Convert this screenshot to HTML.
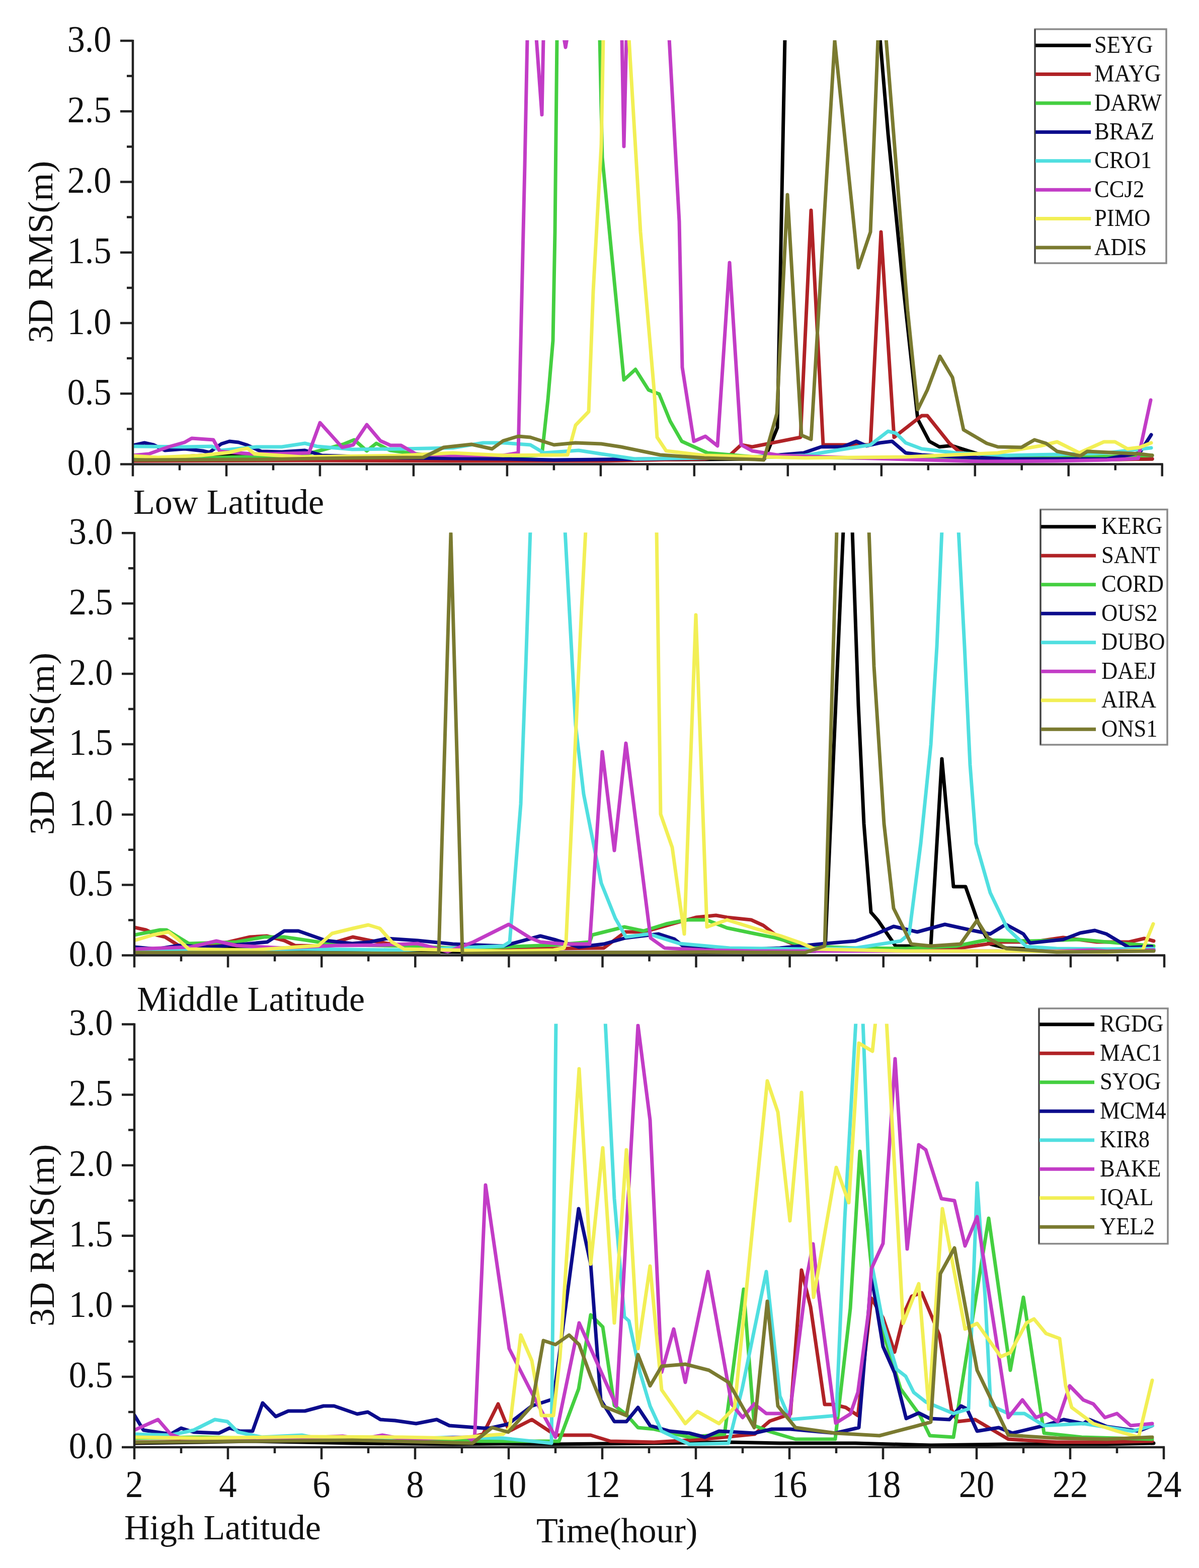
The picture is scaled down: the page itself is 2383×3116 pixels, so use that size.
<!DOCTYPE html>
<html><head><meta charset="utf-8"><title>3D RMS</title>
<style>html,body{margin:0;padding:0;background:#fff;width:2383px;height:3116px;overflow:hidden}svg{display:block}</style>
</head><body>
<svg width="2383" height="3116" viewBox="0 0 2383 3116" font-family='"Liberation Serif", "Times New Roman", serif'>
<rect width="2383" height="3116" fill="#fff"/>
<defs>
<clipPath id="cp0"><rect x="264.0" y="80.0" width="2045.6999999999998" height="847.5"/></clipPath>
<clipPath id="cp1"><rect x="267.0" y="1058.3" width="2047.0" height="845.2"/></clipPath>
<clipPath id="cp2"><rect x="267.0" y="2034.5" width="2046.0" height="846.5"/></clipPath>
</defs>
<g clip-path="url(#cp0)" fill="none" stroke-width="7" stroke-linejoin="round" stroke-linecap="round">
<polyline stroke="#000000" points="264,914 400,905 470,905 560,910 700,912 900,914 1000,915 1200,914 1400,913 1500,912 1520,911 1545,850 1560,76 1749,76 1765,266 1792,540 1824,833 1847,877 1867,888 1886,886 1893,886 1928,897 1948,903 2000,910 2100,912 2200,913 2290,912"/>
<polyline stroke="#b02226" points="264,916 600,915 900,916 1200,916 1400,912 1450,905 1473,884 1495,888 1591,869 1612,418 1636,884 1730,884 1751,461 1777,869 1832,826 1843,826 1887,881 1906,897 1950,912 2100,915 2290,912"/>
<polyline stroke="#44cf40" points="264,912 400,910 600,905 682,883 704,874 729,896 748,881 775,895 850,905 1000,908 1050,906 1077,904 1089,794 1099,677 1103,461 1107,76 1192,76 1197,313 1240,755 1263,734 1289,775 1310,783 1332,837 1355,877 1406,900 1500,908 1700,910 1900,912 2100,910 2290,905"/>
<polyline stroke="#0c0c8c" points="264,885 287,880 305,884 328,895 367,892 403,896 416,899 440,882 456,877 474,879 490,884 519,897 560,898 606,895 640,905 800,910 1000,912 1100,914 1300,912 1500,908 1597,900 1632,888 1675,888 1702,877 1722,886 1749,880 1773,877 1800,900 1832,904 1900,908 2000,912 2200,912 2265,900 2288,864"/>
<polyline stroke="#50dfe0" points="264,887 367,888 421,887 439,895 510,888 560,888 606,881 630,887 700,893 800,892 900,890 960,880 1000,880 1054,884 1081,900 1150,895 1195,902 1262,912 1400,910 1600,905 1730,884 1765,857 1781,861 1800,880 1832,892 1900,900 2000,905 2100,903 2200,900 2288,890"/>
<polyline stroke="#c23cc6" points="264,905 296,902 335,888 367,879 381,871 424,874 437,897 500,902 540,902 614,900 636,840 680,889 702,884 729,844 756,876 776,885 797,885 828,903 900,905 1000,905 1030,900 1043,329 1048,76 1066,76 1077,228 1080,76 1121,76 1124,94 1127,76 1236,76 1240,291 1245,76 1330,76 1350,440 1356,730 1379,877 1402,867 1426,886 1450,522 1473,884 1495,896 1550,905 1700,910 1950,917 2100,916 2200,914 2262,911 2287,795"/>
<polyline stroke="#f2ef55" points="264,906 314,909 400,905 456,899 480,893 492,891 506,902 600,908 800,905 900,900 1000,905 1128,904 1144,845 1170,818 1179,579 1195,289 1199,76 1250,76 1273,461 1300,775 1306,869 1324,896 1400,905 1600,910 1800,908 1983,900 2068,886 2101,878 2145,900 2194,878 2216,878 2241,892 2265,889 2288,880"/>
<polyline stroke="#7a7a30" points="264,914 500,913 700,910 841,909 882,889 937,883 978,892 1000,876 1030,867 1054,869 1101,884 1144,880 1195,882 1234,888 1312,904 1400,910 1500,913 1518,914 1544,822 1565,387 1593,865 1612,873 1659,81 1706,532 1730,461 1745,76 1761,76 1804,618 1824,814 1843,775 1868,708 1893,750 1915,854 1961,881 1983,888 2030,889 2056,874 2079,881 2101,897 2147,906 2161,897 2265,902 2290,905"/>
</g>
<g stroke="#222" stroke-width="4.5" fill="none">
<path d="M264.0,79.0V946.5M239.0,922.5H2311.7"/>
<path d="M252.0,852.4H264.0M239.0,782.2H264.0M252.0,712.1H264.0M239.0,642.0H264.0M252.0,571.9H264.0M239.0,501.8H264.0M252.0,431.6H264.0M239.0,361.5H264.0M252.0,291.4H264.0M239.0,221.2H264.0M252.0,151.1H264.0M239.0,81.0H264.0M357.0,922.5V934.5M450.0,922.5V946.5M543.0,922.5V934.5M635.9,922.5V946.5M728.9,922.5V934.5M821.9,922.5V946.5M914.9,922.5V934.5M1007.9,922.5V946.5M1100.9,922.5V934.5M1193.9,922.5V946.5M1286.8,922.5V934.5M1379.8,922.5V946.5M1472.8,922.5V934.5M1565.8,922.5V946.5M1658.8,922.5V934.5M1751.8,922.5V946.5M1844.8,922.5V934.5M1937.8,922.5V946.5M2030.7,922.5V934.5M2123.7,922.5V946.5M2216.7,922.5V934.5M2309.7,922.5V946.5"/>
</g>
<text transform="translate(221.5,944.0) scale(0.95,1)" font-size="74" text-anchor="end" fill="#111">0.0</text>
<text transform="translate(221.5,803.8) scale(0.95,1)" font-size="74" text-anchor="end" fill="#111">0.5</text>
<text transform="translate(221.5,663.5) scale(0.95,1)" font-size="74" text-anchor="end" fill="#111">1.0</text>
<text transform="translate(221.5,523.2) scale(0.95,1)" font-size="74" text-anchor="end" fill="#111">1.5</text>
<text transform="translate(221.5,383.0) scale(0.95,1)" font-size="74" text-anchor="end" fill="#111">2.0</text>
<text transform="translate(221.5,242.8) scale(0.95,1)" font-size="74" text-anchor="end" fill="#111">2.5</text>
<text transform="translate(221.5,102.5) scale(0.95,1)" font-size="74" text-anchor="end" fill="#111">3.0</text>
<text transform="translate(104.0,500.8) rotate(-90) scale(1.03,1)" font-size="70" text-anchor="middle" fill="#111">3D RMS(m)</text>
<rect x="2057" y="58" width="261" height="465" fill="#fff" stroke="#8a8a8a" stroke-width="3.5"/>
<line x1="2057" y1="58" x2="2057" y2="523" stroke="#444" stroke-width="3"/>
<line x1="2058" y1="90.2" x2="2168" y2="90.2" stroke="#000000" stroke-width="7"/>
<text transform="translate(2175.0,104.7) scale(0.93,1)" font-size="48" fill="#111">SEYG</text>
<line x1="2058" y1="147.6" x2="2168" y2="147.6" stroke="#b02226" stroke-width="7"/>
<text transform="translate(2175.0,162.1) scale(0.93,1)" font-size="48" fill="#111">MAYG</text>
<line x1="2058" y1="205.0" x2="2168" y2="205.0" stroke="#44cf40" stroke-width="7"/>
<text transform="translate(2175.0,219.5) scale(0.93,1)" font-size="48" fill="#111">DARW</text>
<line x1="2058" y1="262.4" x2="2168" y2="262.4" stroke="#0c0c8c" stroke-width="7"/>
<text transform="translate(2175.0,276.9) scale(0.93,1)" font-size="48" fill="#111">BRAZ</text>
<line x1="2058" y1="319.8" x2="2168" y2="319.8" stroke="#50dfe0" stroke-width="7"/>
<text transform="translate(2175.0,334.3) scale(0.93,1)" font-size="48" fill="#111">CRO1</text>
<line x1="2058" y1="377.2" x2="2168" y2="377.2" stroke="#c23cc6" stroke-width="7"/>
<text transform="translate(2175.0,391.7) scale(0.93,1)" font-size="48" fill="#111">CCJ2</text>
<line x1="2058" y1="434.6" x2="2168" y2="434.6" stroke="#f2ef55" stroke-width="7"/>
<text transform="translate(2175.0,449.1) scale(0.93,1)" font-size="48" fill="#111">PIMO</text>
<line x1="2058" y1="492.0" x2="2168" y2="492.0" stroke="#7a7a30" stroke-width="7"/>
<text transform="translate(2175.0,506.5) scale(0.93,1)" font-size="48" fill="#111">ADIS</text>
<g clip-path="url(#cp1)" fill="none" stroke-width="7" stroke-linejoin="round" stroke-linecap="round">
<polyline stroke="#000000" points="267,1893 400,1890 497,1882 560,1886 700,1890 900,1892 1100,1893 1300,1893 1500,1892 1620,1890 1640,1885 1676,1054 1694,1054 1706,1402 1717,1637 1731,1813 1745,1829 1780,1880 1850,1880 1872,1508 1895,1762 1919,1762 1944,1833 1968,1876 2000,1884 2100,1888 2200,1890 2293,1888"/>
<polyline stroke="#b02226" points="267,1843 290,1848 311,1858 328,1862 355,1879 420,1880 497,1862 530,1860 565,1869 586,1879 640,1880 701,1862 735,1869 800,1880 900,1884 1000,1884 1100,1885 1200,1884 1243,1852 1280,1852 1340,1835 1383,1823 1423,1819 1445,1823 1493,1828 1517,1839 1552,1866 1579,1877 1620,1884 1700,1886 1800,1888 1900,1885 1990,1872 2052,1872 2113,1863 2180,1872 2244,1872 2274,1865 2293,1870"/>
<polyline stroke="#44cf40" points="267,1858 318,1848 331,1848 375,1875 470,1872 525,1862 565,1862 633,1872 700,1878 800,1880 900,1884 1000,1882 1100,1878 1172,1872 1177,1858 1241,1842 1279,1850 1324,1836 1364,1828 1404,1828 1445,1844 1498,1855 1538,1863 1570,1872 1600,1880 1700,1884 1800,1885 1900,1880 1960,1868 2050,1870 2147,1867 2200,1872 2293,1880"/>
<polyline stroke="#0c0c8c" points="267,1882 311,1886 355,1879 420,1882 531,1872 565,1850 593,1850 647,1869 700,1875 735,1872 769,1865 830,1869 900,1876 1000,1880 1074,1860 1105,1868 1150,1882 1200,1876 1243,1864 1309,1856 1340,1866 1360,1882 1450,1888 1550,1884 1640,1875 1700,1870 1741,1856 1776,1841 1823,1852 1878,1837 1928,1848 1968,1856 1999,1837 2034,1856 2047,1874 2113,1867 2147,1854 2176,1849 2199,1856 2244,1883 2289,1881"/>
<polyline stroke="#50dfe0" points="267,1888 400,1888 600,1886 800,1888 1000,1880 1013,1872 1035,1598 1045,1324 1054,1054 1123,1054 1144,1441 1160,1578 1195,1755 1223,1825 1244,1862 1289,1856 1350,1875 1450,1884 1600,1886 1700,1884 1790,1870 1807,1856 1830,1676 1850,1480 1862,1285 1872,1054 1905,1054 1917,1285 1928,1520 1940,1676 1968,1774 2002,1845 2040,1881 2100,1885 2200,1886 2293,1885"/>
<polyline stroke="#c23cc6" points="267,1886 379,1882 430,1870 470,1879 560,1884 667,1879 760,1878 830,1875 890,1891 941,1872 1011,1837 1054,1864 1074,1872 1121,1876 1172,1876 1197,1494 1221,1690 1244,1477 1293,1864 1321,1884 1400,1888 1500,1890 1700,1890 1900,1890 2100,1890 2170,1888 2200,1890 2293,1888"/>
<polyline stroke="#f2ef55" points="267,1869 304,1858 335,1852 352,1865 375,1886 500,1888 633,1879 660,1855 701,1845 732,1838 755,1845 779,1872 803,1886 900,1888 1000,1890 1100,1888 1121,1884 1125,1872 1156,1207 1164,1054 1305,1054 1313,1618 1336,1684 1360,1856 1383,1222 1405,1842 1445,1828 1500,1845 1552,1860 1592,1874 1620,1886 1800,1890 2000,1890 2200,1892 2271,1888 2292,1836"/>
<polyline stroke="#7a7a30" points="267,1893 500,1893 700,1894 860,1895 872,1895 896,1060 919,1895 1000,1894 1200,1893 1400,1892 1600,1893 1639,1880 1663,1054 1727,1054 1737,1324 1757,1637 1776,1805 1796,1845 1811,1876 1850,1880 1909,1876 1942,1829 1964,1864 2000,1885 2100,1892 2293,1890"/>
</g>
<g stroke="#222" stroke-width="4.5" fill="none">
<path d="M267.0,1057.3V1922.5M242.0,1898.5H2316.0"/>
<path d="M255.0,1828.6H267.0M242.0,1758.6H267.0M255.0,1688.7H267.0M242.0,1618.8H267.0M255.0,1548.8H267.0M242.0,1478.9H267.0M255.0,1409.0H267.0M242.0,1339.0H267.0M255.0,1269.1H267.0M242.0,1199.2H267.0M255.0,1129.2H267.0M242.0,1059.3H267.0M360.0,1898.5V1910.5M453.1,1898.5V1922.5M546.1,1898.5V1910.5M639.2,1898.5V1922.5M732.2,1898.5V1910.5M825.3,1898.5V1922.5M918.3,1898.5V1910.5M1011.4,1898.5V1922.5M1104.4,1898.5V1910.5M1197.5,1898.5V1922.5M1290.5,1898.5V1910.5M1383.5,1898.5V1922.5M1476.6,1898.5V1910.5M1569.6,1898.5V1922.5M1662.7,1898.5V1910.5M1755.7,1898.5V1922.5M1848.8,1898.5V1910.5M1941.8,1898.5V1922.5M2034.9,1898.5V1910.5M2127.9,1898.5V1922.5M2221.0,1898.5V1910.5M2314.0,1898.5V1922.5"/>
</g>
<text transform="translate(224.5,1920.0) scale(0.95,1)" font-size="74" text-anchor="end" fill="#111">0.0</text>
<text transform="translate(224.5,1780.1) scale(0.95,1)" font-size="74" text-anchor="end" fill="#111">0.5</text>
<text transform="translate(224.5,1640.3) scale(0.95,1)" font-size="74" text-anchor="end" fill="#111">1.0</text>
<text transform="translate(224.5,1500.4) scale(0.95,1)" font-size="74" text-anchor="end" fill="#111">1.5</text>
<text transform="translate(224.5,1360.5) scale(0.95,1)" font-size="74" text-anchor="end" fill="#111">2.0</text>
<text transform="translate(224.5,1220.7) scale(0.95,1)" font-size="74" text-anchor="end" fill="#111">2.5</text>
<text transform="translate(224.5,1080.8) scale(0.95,1)" font-size="74" text-anchor="end" fill="#111">3.0</text>
<text transform="translate(107.0,1477.9) rotate(-90) scale(1.03,1)" font-size="70" text-anchor="middle" fill="#111">3D RMS(m)</text>
<rect x="2068" y="1012.5" width="252" height="467.5" fill="#fff" stroke="#8a8a8a" stroke-width="3.5"/>
<line x1="2068" y1="1012.5" x2="2068" y2="1480" stroke="#444" stroke-width="3"/>
<line x1="2069" y1="1046.7" x2="2178" y2="1046.7" stroke="#000000" stroke-width="7"/>
<text transform="translate(2189.0,1061.2) scale(0.93,1)" font-size="48" fill="#111">KERG</text>
<line x1="2069" y1="1104.2" x2="2178" y2="1104.2" stroke="#b02226" stroke-width="7"/>
<text transform="translate(2189.0,1118.7) scale(0.93,1)" font-size="48" fill="#111">SANT</text>
<line x1="2069" y1="1161.7" x2="2178" y2="1161.7" stroke="#44cf40" stroke-width="7"/>
<text transform="translate(2189.0,1176.2) scale(0.93,1)" font-size="48" fill="#111">CORD</text>
<line x1="2069" y1="1219.2" x2="2178" y2="1219.2" stroke="#0c0c8c" stroke-width="7"/>
<text transform="translate(2189.0,1233.7) scale(0.93,1)" font-size="48" fill="#111">OUS2</text>
<line x1="2069" y1="1276.7" x2="2178" y2="1276.7" stroke="#50dfe0" stroke-width="7"/>
<text transform="translate(2189.0,1291.2) scale(0.93,1)" font-size="48" fill="#111">DUBO</text>
<line x1="2069" y1="1334.2" x2="2178" y2="1334.2" stroke="#c23cc6" stroke-width="7"/>
<text transform="translate(2189.0,1348.7) scale(0.93,1)" font-size="48" fill="#111">DAEJ</text>
<line x1="2069" y1="1391.7" x2="2178" y2="1391.7" stroke="#f2ef55" stroke-width="7"/>
<text transform="translate(2189.0,1406.2) scale(0.93,1)" font-size="48" fill="#111">AIRA</text>
<line x1="2069" y1="1449.2" x2="2178" y2="1449.2" stroke="#7a7a30" stroke-width="7"/>
<text transform="translate(2189.0,1463.7) scale(0.93,1)" font-size="48" fill="#111">ONS1</text>
<g clip-path="url(#cp2)" fill="none" stroke-width="7" stroke-linejoin="round" stroke-linecap="round">
<polyline stroke="#000000" points="267,2868 400,2866 500,2864 600,2866 700,2868 900,2870 1000,2869 1100,2870 1300,2868 1450,2866 1550,2868 1700,2868 1850,2872 2000,2870 2200,2870 2293,2868"/>
<polyline stroke="#b02226" points="267,2866 500,2862 700,2860 900,2866 960,2850 990,2790 1012,2844 1057,2821 1104,2852 1174,2852 1213,2864 1300,2866 1400,2860 1500,2850 1530,2824 1571,2810 1593,2524 1611,2597 1639,2791 1657,2791 1681,2797 1705,2813 1732,2580 1755,2619 1778,2687 1798,2607 1812,2576 1832,2569 1853,2619 1867,2653 1891,2801 1903,2825 1938,2821 2004,2860 2100,2866 2200,2866 2290,2864"/>
<polyline stroke="#44cf40" points="267,2858 400,2856 600,2860 800,2862 960,2864 1111,2864 1150,2760 1174,2613 1198,2637 1221,2793 1244,2810 1268,2837 1300,2840 1370,2856 1440,2850 1478,2562 1499,2833 1530,2845 1581,2860 1660,2860 1690,2600 1709,2288 1734,2539 1758,2657 1790,2760 1828,2812 1848,2853 1895,2856 1965,2421 2008,2723 2034,2578 2075,2848 2150,2856 2290,2860"/>
<polyline stroke="#0c0c8c" points="267,2812 285,2842 339,2850 360,2838 385,2846 435,2848 456,2838 477,2844 502,2844 522,2788 548,2815 573,2804 606,2804 643,2794 664,2794 710,2810 731,2806 756,2821 785,2823 827,2829 868,2821 893,2833 960,2838 974,2838 1010,2830 1057,2794 1100,2780 1150,2402 1174,2512 1194,2782 1221,2825 1245,2825 1268,2797 1292,2833 1331,2844 1370,2848 1401,2856 1429,2844 1499,2848 1534,2840 1570,2840 1660,2848 1707,2837 1732,2535 1755,2676 1778,2728 1801,2819 1826,2808 1848,2819 1887,2821 1910,2794 1922,2800 1942,2844 1985,2837 2012,2848 2075,2833 2114,2821 2153,2829 2165,2821 2200,2835 2263,2844 2290,2833"/>
<polyline stroke="#50dfe0" points="267,2850 339,2852 385,2842 427,2821 452,2825 473,2846 520,2856 600,2852 650,2862 800,2860 900,2856 1000,2858 1096,2868 1105,2030 1203,2030 1221,2382 1241,2617 1250,2625 1272,2727 1292,2794 1315,2844 1370,2870 1448,2868 1475,2760 1523,2527 1550,2774 1570,2821 1662,2813 1679,2421 1701,2030 1715,2030 1734,2519 1755,2630 1782,2721 1800,2735 1816,2767 1840,2786 1895,2809 1925,2800 1942,2351 1958,2578 1969,2793 2004,2809 2036,2809 2075,2833 2153,2829 2251,2844 2290,2833"/>
<polyline stroke="#c23cc6" points="267,2842 314,2821 339,2850 360,2858 500,2862 681,2854 718,2860 760,2852 802,2860 930,2856 943,2865 965,2355 1012,2680 1060,2774 1104,2856 1151,2629 1174,2680 1225,2794 1268,2038 1292,2226 1315,2727 1339,2641 1362,2747 1370,2705 1407,2527 1454,2790 1476,2817 1499,2790 1523,2809 1558,2809 1569,2815 1604,2535 1616,2472 1626,2564 1661,2828 1690,2810 1705,2767 1726,2608 1732,2521 1755,2471 1779,2104 1803,2482 1826,2275 1840,2285 1871,2382 1897,2386 1918,2476 1942,2418 2004,2817 2032,2782 2059,2817 2079,2809 2102,2825 2126,2754 2153,2782 2173,2790 2196,2817 2220,2809 2247,2833 2290,2829"/>
<polyline stroke="#f2ef55" points="267,2856 400,2858 600,2855 800,2856 900,2858 1000,2850 1013,2837 1035,2653 1057,2704 1076,2813 1100,2813 1113,2696 1151,2124 1174,2512 1198,2281 1221,2629 1245,2285 1268,2680 1292,2516 1315,2762 1362,2829 1386,2805 1429,2829 1460,2797 1525,2148 1546,2210 1570,2426 1593,2171 1617,2578 1662,2320 1687,2390 1707,2073 1734,2089 1740,2030 1762,2030 1795,2630 1826,2551 1846,2800 1873,2402 1918,2641 1942,2630 1989,2696 2008,2688 2040,2629 2055,2621 2079,2650 2106,2660 2118,2754 2130,2797 2173,2829 2220,2844 2263,2856 2290,2743"/>
<polyline stroke="#7a7a30" points="267,2866 500,2864 700,2862 939,2868 978,2837 1010,2846 1057,2794 1080,2664 1104,2672 1131,2653 1151,2672 1174,2735 1198,2794 1245,2813 1268,2692 1292,2754 1315,2715 1362,2711 1409,2723 1448,2747 1499,2837 1525,2586 1546,2794 1581,2837 1660,2848 1748,2853 1817,2835 1850,2826 1869,2531 1897,2480 1942,2723 2004,2852 2100,2858 2200,2860 2290,2856"/>
</g>
<g stroke="#222" stroke-width="4.5" fill="none">
<path d="M267.0,2033.5V2900.0M242.0,2876.0H2315.0"/>
<path d="M255.0,2806.0H267.0M242.0,2735.9H267.0M255.0,2665.9H267.0M242.0,2595.8H267.0M255.0,2525.8H267.0M242.0,2455.8H267.0M255.0,2385.7H267.0M242.0,2315.7H267.0M255.0,2245.6H267.0M242.0,2175.6H267.0M255.0,2105.5H267.0M242.0,2035.5H267.0M360.0,2876.0V2888.0M453.0,2876.0V2900.0M546.0,2876.0V2888.0M639.0,2876.0V2900.0M732.0,2876.0V2888.0M825.0,2876.0V2900.0M918.0,2876.0V2888.0M1011.0,2876.0V2900.0M1104.0,2876.0V2888.0M1197.0,2876.0V2900.0M1290.0,2876.0V2888.0M1383.0,2876.0V2900.0M1476.0,2876.0V2888.0M1569.0,2876.0V2900.0M1662.0,2876.0V2888.0M1755.0,2876.0V2900.0M1848.0,2876.0V2888.0M1941.0,2876.0V2900.0M2034.0,2876.0V2888.0M2127.0,2876.0V2900.0M2220.0,2876.0V2888.0M2313.0,2876.0V2900.0"/>
</g>
<text transform="translate(224.5,2897.5) scale(0.95,1)" font-size="74" text-anchor="end" fill="#111">0.0</text>
<text transform="translate(224.5,2757.4) scale(0.95,1)" font-size="74" text-anchor="end" fill="#111">0.5</text>
<text transform="translate(224.5,2617.3) scale(0.95,1)" font-size="74" text-anchor="end" fill="#111">1.0</text>
<text transform="translate(224.5,2477.2) scale(0.95,1)" font-size="74" text-anchor="end" fill="#111">1.5</text>
<text transform="translate(224.5,2337.2) scale(0.95,1)" font-size="74" text-anchor="end" fill="#111">2.0</text>
<text transform="translate(224.5,2197.1) scale(0.95,1)" font-size="74" text-anchor="end" fill="#111">2.5</text>
<text transform="translate(224.5,2057.0) scale(0.95,1)" font-size="74" text-anchor="end" fill="#111">3.0</text>
<text transform="translate(107.0,2454.8) rotate(-90) scale(1.03,1)" font-size="70" text-anchor="middle" fill="#111">3D RMS(m)</text>
<rect x="2065" y="2004" width="256" height="467.5999999999999" fill="#fff" stroke="#8a8a8a" stroke-width="3.5"/>
<line x1="2065" y1="2004" x2="2065" y2="2471.6" stroke="#444" stroke-width="3"/>
<line x1="2066" y1="2035.8" x2="2175" y2="2035.8" stroke="#000000" stroke-width="7"/>
<text transform="translate(2186.0,2050.3) scale(0.93,1)" font-size="48" fill="#111">RGDG</text>
<line x1="2066" y1="2093.3" x2="2175" y2="2093.3" stroke="#b02226" stroke-width="7"/>
<text transform="translate(2186.0,2107.8) scale(0.93,1)" font-size="48" fill="#111">MAC1</text>
<line x1="2066" y1="2150.8" x2="2175" y2="2150.8" stroke="#44cf40" stroke-width="7"/>
<text transform="translate(2186.0,2165.3) scale(0.93,1)" font-size="48" fill="#111">SYOG</text>
<line x1="2066" y1="2208.3" x2="2175" y2="2208.3" stroke="#0c0c8c" stroke-width="7"/>
<text transform="translate(2186.0,2222.8) scale(0.93,1)" font-size="48" fill="#111">MCM4</text>
<line x1="2066" y1="2265.8" x2="2175" y2="2265.8" stroke="#50dfe0" stroke-width="7"/>
<text transform="translate(2186.0,2280.3) scale(0.93,1)" font-size="48" fill="#111">KIR8</text>
<line x1="2066" y1="2323.3" x2="2175" y2="2323.3" stroke="#c23cc6" stroke-width="7"/>
<text transform="translate(2186.0,2337.8) scale(0.93,1)" font-size="48" fill="#111">BAKE</text>
<line x1="2066" y1="2380.8" x2="2175" y2="2380.8" stroke="#f2ef55" stroke-width="7"/>
<text transform="translate(2186.0,2395.3) scale(0.93,1)" font-size="48" fill="#111">IQAL</text>
<line x1="2066" y1="2438.3" x2="2175" y2="2438.3" stroke="#7a7a30" stroke-width="7"/>
<text transform="translate(2186.0,2452.8) scale(0.93,1)" font-size="48" fill="#111">YEL2</text>
<text transform="translate(265.0,1021.0)" font-size="70" fill="#111">Low Latitude</text>
<text transform="translate(272.0,2009.0)" font-size="70" fill="#111">Middle Latitude</text>
<text transform="translate(247.0,3059.0)" font-size="70" fill="#111">High Latitude</text>
<text transform="translate(1066.0,3064.5)" font-size="70" fill="#111">Time(hour)</text>
<text transform="translate(267.0,2974.5) scale(0.93,1)" font-size="76" text-anchor="middle" fill="#111">2</text>
<text transform="translate(453.0,2974.5) scale(0.93,1)" font-size="76" text-anchor="middle" fill="#111">4</text>
<text transform="translate(639.0,2974.5) scale(0.93,1)" font-size="76" text-anchor="middle" fill="#111">6</text>
<text transform="translate(825.0,2974.5) scale(0.93,1)" font-size="76" text-anchor="middle" fill="#111">8</text>
<text transform="translate(1011.0,2974.5) scale(0.93,1)" font-size="76" text-anchor="middle" fill="#111">10</text>
<text transform="translate(1197.0,2974.5) scale(0.93,1)" font-size="76" text-anchor="middle" fill="#111">12</text>
<text transform="translate(1383.0,2974.5) scale(0.93,1)" font-size="76" text-anchor="middle" fill="#111">14</text>
<text transform="translate(1569.0,2974.5) scale(0.93,1)" font-size="76" text-anchor="middle" fill="#111">16</text>
<text transform="translate(1755.0,2974.5) scale(0.93,1)" font-size="76" text-anchor="middle" fill="#111">18</text>
<text transform="translate(1941.0,2974.5) scale(0.93,1)" font-size="76" text-anchor="middle" fill="#111">20</text>
<text transform="translate(2127.0,2974.5) scale(0.93,1)" font-size="76" text-anchor="middle" fill="#111">22</text>
<text transform="translate(2313.0,2974.5) scale(0.93,1)" font-size="76" text-anchor="middle" fill="#111">24</text>
</svg>
</body></html>
